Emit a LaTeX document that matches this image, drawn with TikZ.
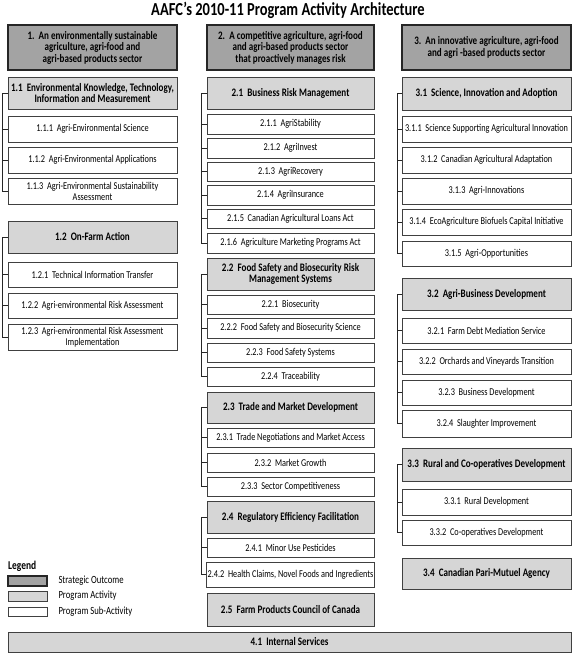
\documentclass[tikz,border=0pt]{standalone}
\usepackage{fontspec}
\setmainfont[FakeStretch=0.79]{Carlito}
\begin{document}
\begin{tikzpicture}[x=1bp,y=-1bp,
  base/.style={draw=black!75,line width=0.7bp,inner sep=1bp,align=center,font=\fontsize{10.5}{11}\selectfont},
  so/.style={base,fill=black!36,line width=1.1bp,draw=black!85,font=\bfseries\fontsize{11.5}{11.5}\selectfont},
  pa/.style={base,fill=black!16,font=\bfseries\fontsize{11.5}{11.5}\selectfont},
  sa/.style={base,fill=white},
  brk/.style={draw=black!85,line width=0.8bp},
  lg/.style={anchor=west,font=\fontsize{11}{11}\selectfont}]
\useasboundingbox (0,0) rectangle (575,657);
\newcommand\bx[7]{\node[#2,minimum width={(#4-#3)*1bp},minimum height={(#6-#5)*1bp}] (#1) at ({(#3+#4)/2},{(#5+#6)/2}) {#7};}
% title
\node[font=\bfseries\fontsize{18.4}{19}\selectfont] (title) at (288,10) {AAFC’s 2010-11 Program Activity Architecture};
% column 1
\bx{so1}{so}{8}{177}{25}{70}{1.\ \ An environmentally sustainable\\agriculture, agri-food and\\agri-based products sector}
\bx{p11}{pa}{8}{177}{77}{109}{1.1\ \ Environmental Knowledge, Technology,\\Information and Measurement}
\bx{s111}{sa}{8}{177}{116}{142}{1.1.1\ \ Agri-Environmental Science}
\bx{s112}{sa}{8}{177}{147}{173}{1.1.2\ \ Agri-Environmental Applications}
\bx{s113}{sa}{8}{177}{178}{204}{1.1.3\ \ Agri-Environmental Sustainability\\Assessment}
\bx{p12}{pa}{8}{177}{221}{253}{1.2\ \ On-Farm Action}
\bx{s121}{sa}{8}{177}{262}{287}{1.2.1\ \ Technical Information Transfer}
\bx{s122}{sa}{8}{177}{293}{318}{1.2.2\ \ Agri-environmental Risk Assessment}
\bx{s123}{sa}{8}{177}{324}{350}{1.2.3\ \ Agri-environmental Risk Assessment\\Implementation}
% column 2
\bx{so2}{so}{207}{374}{25}{70}{2.\ \ A competitive agriculture, agri-food\\and agri-based products sector\\that proactively manages risk}
\bx{p21}{pa}{207}{374}{77}{109}{2.1\ \ Business Risk Management}
\bx{s211}{sa}{207}{374}{114}{134}{2.1.1\ \ AgriStability}
\bx{s212}{sa}{207}{374}{138}{158}{2.1.2\ \ AgriInvest}
\bx{s213}{sa}{207}{374}{162}{181}{2.1.3\ \ AgriRecovery}
\bx{s214}{sa}{207}{374}{185}{205}{2.1.4\ \ AgriInsurance}
\bx{s215}{sa}{207}{374}{209}{228}{2.1.5\ \ Canadian Agricultural Loans Act}
\bx{s216}{sa}{207}{374}{233}{253}{2.1.6\ \ Agriculture Marketing Programs Act}
\bx{p22}{pa}{207}{374}{258}{290}{2.2\ \ Food Safety and Biosecurity Risk\\Management Systems}
\bx{s221}{sa}{207}{374}{295}{314}{2.2.1\ \ Biosecurity}
\bx{s222}{sa}{207}{374}{318}{338}{2.2.2\ \ Food Safety and Biosecurity Science}
\bx{s223}{sa}{207}{374}{343}{362}{2.2.3\ \ Food Safety Systems}
\bx{s224}{sa}{207}{374}{367}{386}{2.2.4\ \ Traceability}
\bx{p23}{pa}{207}{374}{392}{423}{2.3\ \ Trade and Market Development}
\bx{s231}{sa}{207}{374}{428}{447}{2.3.1\ \ Trade Negotiations and Market Access}
\bx{s232}{sa}{207}{374}{453}{472}{2.3.2\ \ Market Growth}
\bx{s233}{sa}{207}{374}{477}{496}{2.3.3\ \ Sector Competitiveness}
\bx{p24}{pa}{207}{374}{501}{533}{2.4\ \ Regulatory Efficiency Facilitation}
\bx{s241}{sa}{207}{374}{538}{557}{2.4.1\ \ Minor Use Pesticides}
\bx{s242}{sa}{207}{374}{562}{587}{2.4.2\ \ Health Claims, Novel Foods and Ingredients}
\bx{p25}{pa}{207}{374}{593}{626}{2.5\ \ Farm Products Council of Canada}
% column 3
\bx{so3}{so}{402}{571}{25}{70}{3.\ \ An innovative agriculture, agri-food\\and agri -based products sector}
\bx{p31}{pa}{402}{571}{77}{110}{3.1\ \ Science, Innovation and Adoption}
\bx{s311}{sa}{402}{571}{116}{142}{3.1.1\ \ Science Supporting Agricultural Innovation}
\bx{s312}{sa}{402}{571}{147}{173}{3.1.2\ \ Canadian Agricultural Adaptation}
\bx{s313}{sa}{402}{571}{178}{204}{3.1.3\ \ Agri-Innovations}
\bx{s314}{sa}{402}{571}{209}{235}{3.1.4\ \ EcoAgriculture Biofuels Capital Initiative}
\bx{s315}{sa}{402}{571}{241}{266}{3.1.5\ \ Agri-Opportunities}
\bx{p32}{pa}{402}{571}{278}{310}{3.2\ \ Agri-Business Development}
\bx{s321}{sa}{402}{571}{318}{343}{3.2.1\ \ Farm Debt Mediation Service}
\bx{s322}{sa}{402}{571}{349}{374}{3.2.2\ \ Orchards and Vineyards Transition}
\bx{s323}{sa}{402}{571}{380}{405}{3.2.3\ \ Business Development}
\bx{s324}{sa}{402}{571}{410}{437}{3.2.4\ \ Slaughter Improvement}
\bx{p33}{pa}{402}{571}{448}{481}{3.3\ \ Rural and Co-operatives Development}
\bx{s331}{sa}{402}{571}{489}{515}{3.3.1\ \ Rural Development}
\bx{s332}{sa}{402}{571}{520}{545}{3.3.2\ \ Co-operatives Development}
\bx{p34}{pa}{402}{571}{558}{589}{3.4\ \ Canadian Pari-Mutuel Agency}
% internal services
\bx{p41}{pa}{8}{571}{632}{652}{4.1\ \ Internal Services}
% brackets
\newcommand\grp[3]{\draw[brk] (#2.west) -- ++(-#1,0) |- (#3.west);}
\newcommand\tk[2]{\draw[brk] (#2.west) -- ++(-#1,0);}
\grp{5}{p11}{s113} \tk{5}{s111} \tk{5}{s112}
\grp{5}{p12}{s123} \tk{5}{s121} \tk{5}{s122}
\grp{5}{p21}{s216} \tk{5}{s211} \tk{5}{s212} \tk{5}{s213} \tk{5}{s214} \tk{5}{s215}
\grp{5}{p22}{s224} \tk{5}{s221} \tk{5}{s222} \tk{5}{s223}
\grp{5}{p23}{s233} \tk{5}{s231} \tk{5}{s232}
\grp{5}{p24}{s242} \tk{5}{s241}
\grp{4}{p31}{s315} \tk{4}{s311} \tk{4}{s312} \tk{4}{s313} \tk{4}{s314}
\grp{4}{p32}{s324} \tk{4}{s321} \tk{4}{s322} \tk{4}{s323}
\grp{4}{p33}{s332} \tk{4}{s331}
% legend
\node[anchor=west,font=\bfseries\fontsize{12}{12}\selectfont,inner sep=0] (lgt) at (8,566) {Legend};
\bx{l1}{so}{8}{47}{576}{586}{}
\bx{l2}{pa}{8}{47}{591}{601}{}
\bx{l3}{sa}{8}{47}{607}{616}{}
\node[lg] (l1t) at (55,581) {Strategic Outcome};
\node[lg] (l2t) at (55,596) {Program Activity};
\node[lg] (l3t) at (55,611.5) {Program Sub-Activity};
\end{tikzpicture}
\end{document}
